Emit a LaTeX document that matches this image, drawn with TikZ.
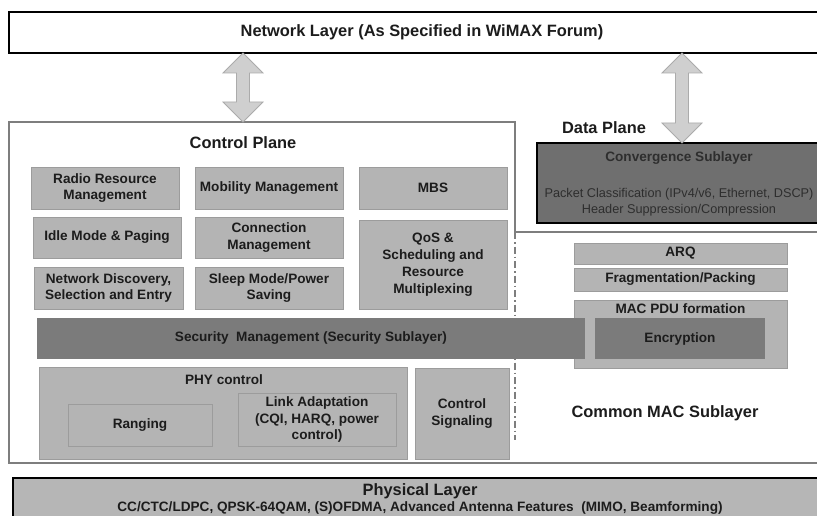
\documentclass[tikz,border=0pt]{standalone}
\usepackage{fontspec}
\setmainfont{Liberation Sans}
\usetikzlibrary{calc}

\definecolor{ink}{HTML}{1C1C1C}
\definecolor{lightbox}{HTML}{B4B4B4}
\definecolor{boxedge}{HTML}{9C9C9C}
\definecolor{darkbox}{HTML}{7B7B7B}
\definecolor{convbox}{HTML}{6F6F6F}
\definecolor{convink}{HTML}{2E2E2E}
\definecolor{phybox}{HTML}{B6B6B6}
\definecolor{framegray}{HTML}{7E7E7E}
\definecolor{arrowfill}{HTML}{CFCFCF}
\definecolor{arrowedge}{HTML}{ABABAB}

\newcommand\boxfont{\fontsize{13.6}{16.8}\selectfont\bfseries}
\newcommand\headfont{\fontsize{16.4}{19}\selectfont\bfseries}
\newcommand\plainfont{\fontsize{12.7}{14}\selectfont}

% double-headed block arrow between two named points (top tip, bottom tip)
\newcommand\blockarrow[2]{%
  \filldraw[blockarr] (#1) -- ($(#1)+(20,20)$) -- ($(#1)+(6.5,20)$)
    -- ($(#2)+(6.5,-20)$) -- ($(#2)+(20,-20)$) -- (#2)
    -- ($(#2)+(-20,-20)$) -- ($(#2)+(-6.5,-20)$)
    -- ($(#1)+(-6.5,20)$) -- ($(#1)+(-20,20)$) -- cycle;}

\begin{document}
\begin{tikzpicture}[x=1pt,y=-1pt,
  every node/.style={inner sep=0pt, outer sep=0pt, text=ink},
  lbox/.style={draw=boxedge, line width=0.8pt, fill=lightbox, align=center, font=\boxfont},
  dbox/.style={draw=none, fill=darkbox, align=center, font=\boxfont},
  plabel/.style={font=\headfont},
  frame/.style={draw=framegray, line width=1.4pt},
  blockarr/.style={fill=arrowfill, draw=arrowedge, line width=0.8pt, line join=miter}]

\useasboundingbox (0,0) rectangle (817,516);
\clip (0,0) rectangle (817,516);
\fill[white] (0,0) rectangle (817,516);

% ---- Network layer ----
\node[draw=black, line width=1.8pt, fill=white, font=\headfont,
      minimum width=826, minimum height=41] (net) at (422,32.5)
      {Network Layer (As Specified in WiMAX Forum)};

% ---- outline of the MAC layer (control plane + common part) ----
\coordinate (cpNE) at (515,122);
\coordinate (cpStep) at (515,232);
\draw[frame] (830,232) -- (cpStep) -- (cpNE) -- (9,122) -- (9,463) -- (830,463);
\draw[framegray, line width=1.2pt, dash pattern=on 7pt off 3pt on 1.5pt off 3pt]
  (cpStep) -- (515,440);

% ---- block arrows to the network layer ----
\coordinate (aLt) at (243,53);
\coordinate (aLb) at (243,122);
\coordinate (aRt) at (682,53);
\coordinate (aRb) at (682,143);

\node[plabel] (cplabel) at (243,143) {Control Plane};
\node[plabel] (dplabel) at (604,127.5) {Data Plane};

% ---- convergence sublayer ----
\node[draw=black, line width=1.8pt, fill=convbox, minimum width=284, minimum height=80]
  (cs) at (679,183) {};
\node[font=\boxfont, text=convink] (cstitle) at (679,158) {Convergence Sublayer};
\node[font=\plainfont, text=convink, align=center] (cstext) at (679,202)
  {Packet Classification (IPv4/v6, Ethernet, DSCP)\\[1.5pt]Header Suppression/Compression};

\blockarrow{aLt}{aLb}
\blockarrow{aRt}{aRb}

% ---- control plane functions ----
\node[lbox, minimum width=148, minimum height=42] (rrm)  at (105,188) {Radio Resource\\Management};
\node[lbox, minimum width=148, minimum height=42] (mob)  at (269,188) {Mobility Management};
\node[lbox, minimum width=148, minimum height=42] (mbs)  at (433,188) {MBS};
\node[lbox, minimum width=148, minimum height=41] (idle) at (107,237.5) {Idle Mode \& Paging};
\node[lbox, minimum width=148, minimum height=41] (conn) at (269,237.5) {Connection\\Management};
\node[lbox, minimum width=148, minimum height=89] (qos)  at (433,264.5) {QoS \&\\Scheduling and\\Resource\\Multiplexing};
\node[lbox, minimum width=149, minimum height=42] (nde)  at (108.5,288) {Network Discovery,\\Selection and Entry};
\node[lbox, minimum width=148, minimum height=42] (slp)  at (269,288) {Sleep Mode/Power\\Saving};

% ---- common part (data path) ----
\node[lbox, minimum width=213, minimum height=21] (arq)  at (680.5,253.5) {ARQ};
\node[lbox, minimum width=213, minimum height=23] (frag) at (680.5,279.5) {Fragmentation/Packing};
\node[lbox, minimum width=213, minimum height=68] (pdu)  at (680.5,334) {};
\node[font=\boxfont] (pdutitle) at (680.5,308.5) {MAC PDU formation};

% ---- security sublayer ----
\node[dbox, minimum width=548, minimum height=41] (sec) at (311,338.5)
  {Security\ \ Management (Security Sublayer)};
\node[dbox, minimum width=170, minimum height=41] (enc) at (680,338.5) {Encryption};

% ---- PHY control ----
\node[lbox, minimum width=368, minimum height=92] (phyc) at (223,413) {};
\node[font=\boxfont] (phyctitle) at (224,379.5) {PHY control};
\node[lbox, minimum width=144, minimum height=42] (rng)  at (140,425) {Ranging};
\node[lbox, minimum width=158, minimum height=53] (la)   at (317,419.5) {Link Adaptation\\(CQI, HARQ, power\\control)};
\node[lbox, minimum width=94, minimum height=91]  (csig) at (462,413.5) {Control\\Signaling};

\node[plabel] (cmac) at (665,413) {Common MAC Sublayer};

% ---- physical layer ----
\node[draw=black, line width=2.2pt, fill=phybox, minimum width=814, minimum height=60]
  (phy) at (420,508) {};
\node[font=\headfont] (phytitle) at (420,491) {Physical Layer};
\node[font=\boxfont] (phytext) at (420,508)
  {CC/CTC/LDPC, QPSK-64QAM, (S)OFDMA, Advanced Antenna Features\ \ (MIMO, Beamforming)};

\end{tikzpicture}
\end{document}
